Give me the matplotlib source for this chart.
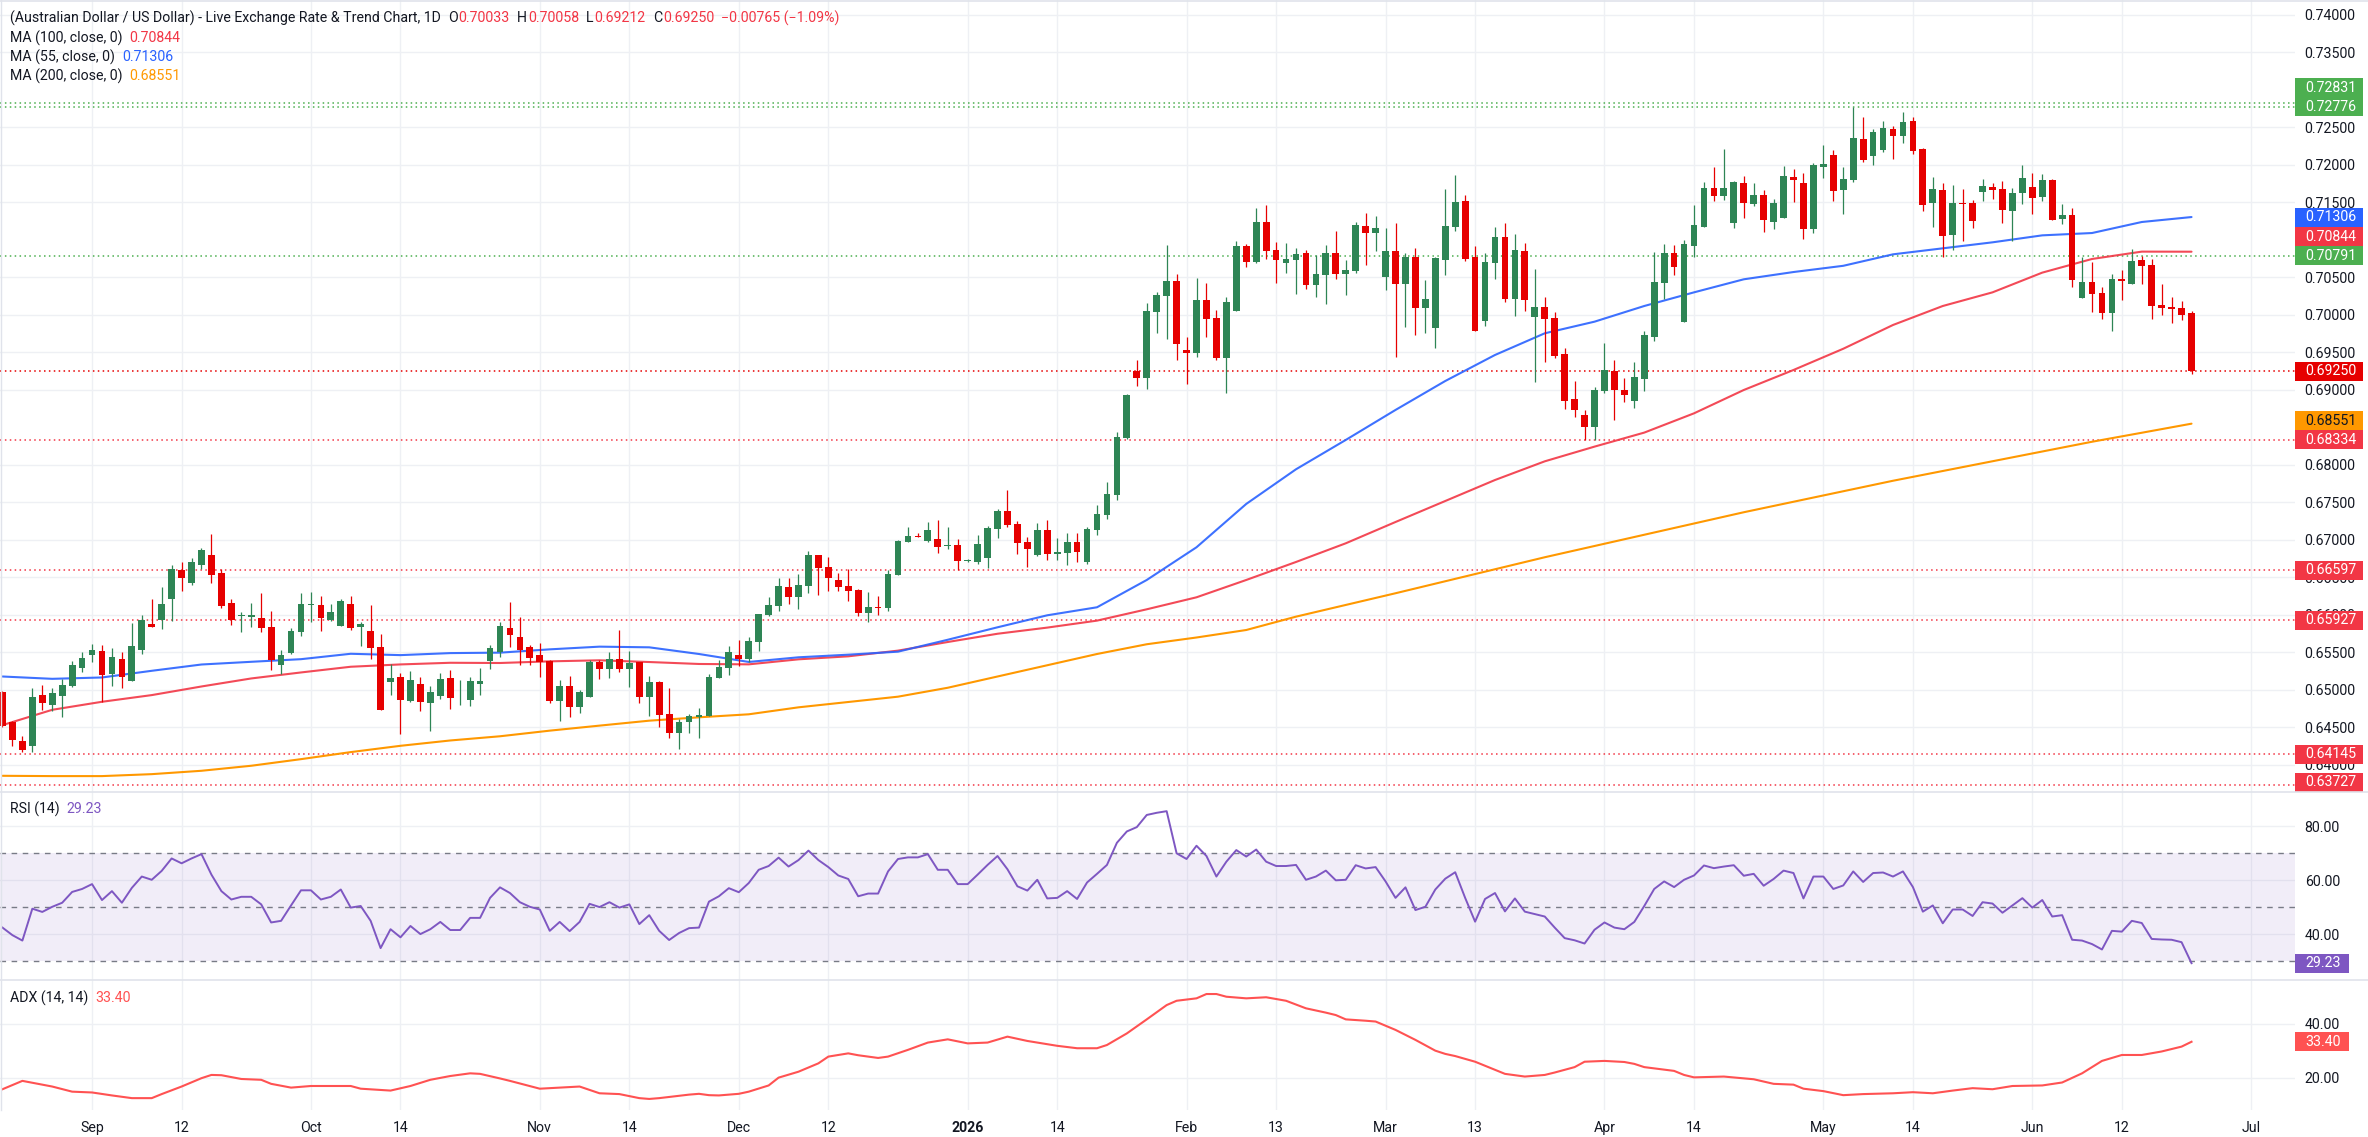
import numpy as np
import matplotlib
matplotlib.use("Agg")
import matplotlib.pyplot as plt
from matplotlib.patches import Rectangle
from matplotlib.lines import Line2D
from matplotlib.transforms import blended_transform_factory

plt.rcParams['font.family'] = ['Roboto', 'DejaVu Sans']

# ---- data (daily AUD/USD, first bar 2025-08-19, weekdays only) ----
start_date = "2025-08-19"

opens = [
    0.64976, 0.64572, 0.64318, 0.64256, 0.64931, 0.64803, 0.64923, 0.65056, 0.65296, 0.65469,
    0.65518, 0.65212, 0.65412, 0.65123, 0.65536, 0.65878, 0.65936, 0.66216, 0.66598, 0.66429,
    0.66669, 0.66798, 0.66558, 0.66154, 0.65985, 0.65976, 0.65958, 0.65843, 0.65336, 0.65491,
    0.65767, 0.66132, 0.66132, 0.65931, 0.65856, 0.66145, 0.65843, 0.65785, 0.65571, 0.65109,
    0.65171, 0.64852, 0.65078, 0.64829, 0.64914, 0.65158, 0.64887, 0.64867, 0.65085, 0.65391,
    0.65511, 0.65827, 0.65707, 0.65573, 0.65467, 0.65391, 0.64858, 0.65053, 0.64778, 0.64911,
    0.65378, 0.65285, 0.65413, 0.65285, 0.65378, 0.64911, 0.65107, 0.64680, 0.64431, 0.64578,
    0.64644, 0.64658, 0.65164, 0.65298, 0.65467, 0.65413, 0.65645, 0.66000, 0.66125, 0.66373,
    0.66245, 0.66391, 0.66800, 0.66640, 0.66467, 0.66387, 0.66333, 0.66031, 0.66107, 0.66098,
    0.66538, 0.66978, 0.67053, 0.66987, 0.67013, 0.66920, 0.66933, 0.66724, 0.66707, 0.66764,
    0.67151, 0.67387, 0.67213, 0.66973, 0.66800, 0.67133, 0.66818, 0.66831, 0.66973, 0.66711,
    0.67133, 0.67334, 0.67600, 0.68356, 0.69253, 0.69160, 0.70040, 0.70253, 0.70453, 0.69533,
    0.69493, 0.70200, 0.69960, 0.69427, 0.70053, 0.70920, 0.70707, 0.71240, 0.70867, 0.70693,
    0.70733, 0.70827, 0.70400, 0.70533, 0.70827, 0.70547, 0.70587, 0.71187, 0.71093, 0.70507,
    0.70853, 0.70418, 0.70773, 0.70098, 0.69831, 0.70738, 0.71173, 0.71520, 0.70773, 0.69924,
    0.70698, 0.71040, 0.70218, 0.70853, 0.69978, 0.70107, 0.69964, 0.69484, 0.68884, 0.68671,
    0.68511, 0.68991, 0.69258, 0.69004, 0.68858, 0.69151, 0.69711, 0.70431, 0.70827, 0.69911,
    0.70924, 0.71173, 0.71693, 0.71587, 0.71227, 0.71760, 0.71480, 0.71600, 0.71240, 0.71293,
    0.71840, 0.71760, 0.71147, 0.71973, 0.72133, 0.71667, 0.71800, 0.72347, 0.72120, 0.72200,
    0.72480, 0.72387, 0.72587, 0.72213, 0.71493, 0.71667, 0.71071, 0.71493, 0.71493, 0.71640,
    0.71707, 0.71680, 0.71387, 0.71627, 0.71707, 0.71573, 0.71800, 0.71280, 0.71333, 0.70227,
    0.70440, 0.70293, 0.70027, 0.70480, 0.70413, 0.70733, 0.70667, 0.70133, 0.70107, 0.70093,
    0.70033,
]
highs = [
    0.64990, 0.64589, 0.64380, 0.65020, 0.65065, 0.65020, 0.65145, 0.65385, 0.65500, 0.65611,
    0.65598, 0.65558, 0.65500, 0.65891, 0.65998, 0.66211, 0.66371, 0.66665, 0.66700, 0.66754,
    0.66887, 0.67078, 0.66611, 0.66211, 0.66034, 0.66158, 0.66291, 0.66051, 0.65531, 0.65825,
    0.66291, 0.66309, 0.66256, 0.66145, 0.66216, 0.66251, 0.65909, 0.66131, 0.65745, 0.65345,
    0.65225, 0.65247, 0.65167, 0.65056, 0.65225, 0.65265, 0.65132, 0.65173, 0.65293, 0.65600,
    0.65907, 0.66173, 0.65973, 0.65600, 0.65622, 0.65400, 0.65133, 0.65187, 0.65000, 0.65400,
    0.65400, 0.65507, 0.65800, 0.65520, 0.65378, 0.65187, 0.65120, 0.65027, 0.64618, 0.64680,
    0.64760, 0.65213, 0.65400, 0.65587, 0.65667, 0.65707, 0.66013, 0.66240, 0.66493, 0.66493,
    0.66547, 0.66853, 0.66800, 0.66773, 0.66560, 0.66613, 0.66347, 0.66307, 0.66253, 0.66600,
    0.67000, 0.67178, 0.67098, 0.67240, 0.67267, 0.67173, 0.67013, 0.66751, 0.67067, 0.67187,
    0.67413, 0.67667, 0.67253, 0.67040, 0.67227, 0.67267, 0.67027, 0.67093, 0.67093, 0.67173,
    0.67467, 0.67773, 0.68440, 0.68947, 0.69400, 0.70160, 0.70307, 0.70933, 0.70547, 0.69707,
    0.70493, 0.70427, 0.70067, 0.70240, 0.70987, 0.70947, 0.71427, 0.71467, 0.70973, 0.70960,
    0.70893, 0.70867, 0.70800, 0.70933, 0.71120, 0.70733, 0.71240, 0.71360, 0.71320, 0.71160,
    0.71227, 0.70827, 0.70893, 0.70467, 0.70773, 0.71680, 0.71867, 0.71600, 0.70920, 0.70827,
    0.71173, 0.71227, 0.71080, 0.70960, 0.70613, 0.70240, 0.70044, 0.69564, 0.69124, 0.68738,
    0.69044, 0.69631, 0.69404, 0.69164, 0.69378, 0.69791, 0.70844, 0.70951, 0.70938, 0.71000,
    0.71467, 0.71773, 0.71973, 0.72213, 0.71787, 0.71853, 0.71760, 0.71667, 0.71547, 0.71987,
    0.71947, 0.71893, 0.72027, 0.72267, 0.72200, 0.71973, 0.72773, 0.72640, 0.72480, 0.72587,
    0.72520, 0.72707, 0.72640, 0.72227, 0.71840, 0.71760, 0.71733, 0.71680, 0.71533, 0.71813,
    0.71760, 0.71787, 0.71693, 0.72000, 0.71893, 0.71880, 0.71813, 0.71480, 0.71427, 0.70773,
    0.70707, 0.70373, 0.70547, 0.70600, 0.70880, 0.70787, 0.70747, 0.70413, 0.70240, 0.70187,
    0.70058,
]
lows = [
    0.64510, 0.64256, 0.64167, 0.64167, 0.64736, 0.64723, 0.64643, 0.65043, 0.65243, 0.65367,
    0.64843, 0.65047, 0.65029, 0.65114, 0.65483, 0.65834, 0.65811, 0.65923, 0.66323, 0.66398,
    0.66611, 0.66429, 0.66087, 0.65869, 0.65767, 0.65834, 0.65767, 0.65269, 0.65212, 0.65478,
    0.65723, 0.65909, 0.65785, 0.65914, 0.65847, 0.65802, 0.65580, 0.65411, 0.64736, 0.64931,
    0.64412, 0.64834, 0.64723, 0.64456, 0.64878, 0.64745, 0.64798, 0.64791, 0.64933, 0.65285,
    0.65445, 0.65578, 0.65333, 0.65333, 0.65178, 0.64822, 0.64591, 0.64645, 0.64689, 0.64900,
    0.65151, 0.65165, 0.65245, 0.65045, 0.64831, 0.64658, 0.64511, 0.64365, 0.64218, 0.64431,
    0.64365, 0.64653, 0.65164, 0.65200, 0.65325, 0.65378, 0.65525, 0.65987, 0.66058, 0.66151,
    0.66085, 0.66298, 0.66267, 0.66320, 0.66324, 0.66191, 0.65991, 0.65911, 0.66005, 0.66058,
    0.66538, 0.66978, 0.67040, 0.66973, 0.66831, 0.66884, 0.66600, 0.66711, 0.66684, 0.66631,
    0.67031, 0.67178, 0.66818, 0.66644, 0.66787, 0.66738, 0.66738, 0.66671, 0.66711, 0.66684,
    0.67067, 0.67280, 0.67533, 0.68342, 0.69053, 0.69013, 0.69760, 0.69680, 0.69400, 0.69080,
    0.69440, 0.69707, 0.69400, 0.68960, 0.70053, 0.70640, 0.70693, 0.70747, 0.70427, 0.70560,
    0.70280, 0.70347, 0.70240, 0.70147, 0.70480, 0.70267, 0.70560, 0.70667, 0.70853, 0.70333,
    0.69444, 0.69844, 0.69738, 0.69765, 0.69564, 0.70538, 0.71124, 0.70720, 0.69791, 0.69858,
    0.70484, 0.70178, 0.69991, 0.70058, 0.69111, 0.69378, 0.69431, 0.68751, 0.68644, 0.68333,
    0.68333, 0.68956, 0.68604, 0.68844, 0.68764, 0.68991, 0.69658, 0.70218, 0.70538, 0.69911,
    0.70778, 0.71173, 0.71520, 0.71533, 0.71160, 0.71293, 0.71453, 0.71107, 0.71147, 0.71293,
    0.71507, 0.71013, 0.71093, 0.71827, 0.71520, 0.71347, 0.71773, 0.72044, 0.72000, 0.72173,
    0.72080, 0.72293, 0.72147, 0.71387, 0.71173, 0.70778, 0.70867, 0.70987, 0.71160, 0.71520,
    0.71547, 0.71227, 0.70987, 0.71480, 0.71347, 0.71520, 0.71267, 0.71213, 0.70378, 0.70227,
    0.70040, 0.69947, 0.69787, 0.70200, 0.70413, 0.70413, 0.69947, 0.70000, 0.69893, 0.69933,
    0.69212,
]
closes = [
    0.64523, 0.64336, 0.64203, 0.64900, 0.64829, 0.64958, 0.65065, 0.65331, 0.65425, 0.65531,
    0.65203, 0.65438, 0.65176, 0.65585, 0.65931, 0.65843, 0.66140, 0.66611, 0.66496, 0.66700,
    0.66865, 0.66536, 0.66123, 0.65931, 0.65998, 0.65998, 0.65829, 0.65398, 0.65469, 0.65785,
    0.66145, 0.66145, 0.65963, 0.66043, 0.66185, 0.65820, 0.65883, 0.65558, 0.64736, 0.65158,
    0.64869, 0.65132, 0.64843, 0.64972, 0.65145, 0.64887, 0.64896, 0.65120, 0.65120, 0.65560,
    0.65853, 0.65738, 0.65533, 0.65431, 0.65378, 0.64858, 0.65053, 0.64778, 0.64973, 0.65378,
    0.65285, 0.65413, 0.65285, 0.65360, 0.64911, 0.65107, 0.64671, 0.64431, 0.64578, 0.64653,
    0.64667, 0.65173, 0.65307, 0.65507, 0.65413, 0.65653, 0.66013, 0.66133, 0.66387, 0.66245,
    0.66400, 0.66800, 0.66631, 0.66498, 0.66378, 0.66324, 0.66031, 0.66107, 0.66098, 0.66547,
    0.66987, 0.67053, 0.67040, 0.67133, 0.66911, 0.66933, 0.66724, 0.66738, 0.66947, 0.67160,
    0.67387, 0.67200, 0.66964, 0.66884, 0.67133, 0.66818, 0.66840, 0.66973, 0.66844, 0.67147,
    0.67347, 0.67613, 0.68373, 0.68933, 0.69160, 0.70053, 0.70267, 0.70453, 0.69618, 0.69498,
    0.70200, 0.69947, 0.69427, 0.70173, 0.70920, 0.70707, 0.71240, 0.70853, 0.70733, 0.70747,
    0.70813, 0.70400, 0.70547, 0.70827, 0.70547, 0.70600, 0.71200, 0.71093, 0.71160, 0.70853,
    0.70418, 0.70773, 0.70098, 0.70213, 0.70760, 0.71187, 0.71507, 0.70747, 0.69791, 0.70707,
    0.71040, 0.70218, 0.70867, 0.70204, 0.70107, 0.69951, 0.69458, 0.68858, 0.68738, 0.68511,
    0.69004, 0.69271, 0.69004, 0.68938, 0.69178, 0.69738, 0.70444, 0.70827, 0.70644, 0.70947,
    0.71200, 0.71693, 0.71587, 0.71693, 0.71773, 0.71493, 0.71600, 0.71267, 0.71493, 0.71853,
    0.71800, 0.71147, 0.72000, 0.72013, 0.71653, 0.71813, 0.72360, 0.72067, 0.72440, 0.72493,
    0.72387, 0.72573, 0.72187, 0.71467, 0.71680, 0.71058, 0.71493, 0.71480, 0.71253, 0.71720,
    0.71667, 0.71400, 0.71627, 0.71827, 0.71560, 0.71800, 0.71267, 0.71333, 0.70467, 0.70440,
    0.70280, 0.70027, 0.70480, 0.70458, 0.70720, 0.70653, 0.70120, 0.70093, 0.70080, 0.70000,
    0.69250,
]

# moving averages read every 5 bars
ma_step = 5
ma55 = [
    0.65180, 0.65149, 0.65167, 0.65256, 0.65340, 0.65376, 0.65411, 0.65483, 0.65465, 0.65492,
    0.65498, 0.65542, 0.65578, 0.65569, 0.65480, 0.65374, 0.65436, 0.65471, 0.65511, 0.65670,
    0.65836, 0.65996, 0.66103, 0.66467, 0.66903, 0.67481, 0.67943, 0.68334, 0.68734, 0.69120,
    0.69467, 0.69756, 0.69911, 0.70120, 0.70302, 0.70476, 0.70573, 0.70656, 0.70809, 0.70889,
    0.70969, 0.71062, 0.71093, 0.71240, 0.71306,
]
ma100 = [
    0.64532, 0.64736, 0.64843, 0.64932, 0.65047, 0.65154, 0.65234, 0.65310, 0.65341, 0.65363,
    0.65360, 0.65382, 0.65396, 0.65373, 0.65347, 0.65342, 0.65409, 0.65449, 0.65525, 0.65640,
    0.65750, 0.65832, 0.65925, 0.66076, 0.66236, 0.66467, 0.66707, 0.66956, 0.67240, 0.67520,
    0.67800, 0.68049, 0.68245, 0.68432, 0.68689, 0.69000, 0.69267, 0.69550, 0.69867, 0.70120,
    0.70302, 0.70565, 0.70747, 0.70845, 0.70844,
]
ma200 = [
    0.63856, 0.63852, 0.63852, 0.63878, 0.63923, 0.63990, 0.64078, 0.64172, 0.64256, 0.64327,
    0.64383, 0.64458, 0.64525, 0.64591, 0.64636, 0.64676, 0.64769, 0.64840, 0.64911, 0.65030,
    0.65180, 0.65330, 0.65480, 0.65610, 0.65700, 0.65800, 0.65978, 0.66134, 0.66290, 0.66450,
    0.66610, 0.66770, 0.66920, 0.67070, 0.67220, 0.67370, 0.67510, 0.67650, 0.67790, 0.67920,
    0.68050, 0.68180, 0.68310, 0.68430, 0.68551,
]

rsi = [
    42.4, 39.6, 37.6, 49.4, 48.2, 50.1, 51.6, 55.6, 56.7, 58.5,
    52.6, 55.9, 51.6, 57.1, 61.3, 60.1, 63.4, 68.0, 66.2, 68.0,
    69.6, 62.0, 55.9, 52.8, 53.8, 53.8, 51.0, 44.3, 44.9, 50.6,
    56.2, 56.2, 52.8, 53.8, 56.5, 49.8, 50.4, 44.9, 34.8, 41.8,
    38.8, 43.0, 40.0, 41.8, 44.5, 41.5, 41.5, 46.0, 46.0, 53.4,
    57.3, 55.2, 51.8, 50.1, 49.1, 41.2, 44.5, 41.1, 44.5, 51.2,
    50.0, 51.8, 49.8, 51.0, 43.7, 47.0, 41.2, 37.8, 40.4, 42.2,
    42.4, 52.0, 54.0, 57.0, 55.5, 58.9, 63.8, 65.2, 68.3, 65.0,
    67.4, 70.9, 67.4, 64.8, 61.7, 60.4, 54.0, 55.0, 55.0, 63.2,
    67.8, 68.4, 68.4, 69.6, 63.8, 63.8, 58.5, 58.5, 62.0, 65.6,
    68.9, 64.0, 57.7, 56.1, 60.1, 53.2, 53.4, 55.9, 53.0, 59.1,
    62.3, 65.6, 73.8, 78.0, 79.6, 84.1, 84.9, 85.5, 69.9, 67.8,
    72.7, 68.9, 61.3, 66.8, 71.1, 68.7, 71.3, 66.8, 65.2, 65.2,
    65.6, 60.1, 61.3, 63.5, 59.9, 60.1, 65.5, 64.3, 64.8, 59.5,
    53.4, 57.3, 48.9, 50.1, 56.5, 60.5, 62.9, 53.4, 44.6, 53.0,
    55.2, 48.4, 53.2, 48.3, 47.4, 46.5, 42.4, 38.5, 37.7, 36.5,
    41.6, 44.3, 42.4, 41.8, 44.5, 50.4, 56.7, 59.5, 57.4, 60.1,
    61.7, 65.4, 64.4, 65.0, 65.5, 61.6, 62.3, 57.9, 60.4, 63.5,
    62.6, 53.2, 61.3, 61.3, 56.7, 58.0, 63.2, 59.3, 62.6, 62.8,
    61.3, 63.2, 57.4, 48.3, 50.6, 44.0, 49.1, 49.1, 46.7, 51.8,
    51.3, 47.9, 50.6, 53.3, 49.8, 52.6, 46.5, 47.0, 37.9, 37.6,
    36.3, 34.3, 41.2, 40.9, 44.9, 44.1, 38.2, 38.0, 37.9, 37.0,
    29.23,
]

# ADX read at its turning points (bar number, value)
adx_bar = [0, 2, 5, 7, 9, 11, 13, 15, 16, 18, 20, 21, 22, 24, 26, 27, 29, 31, 35, 36,
           39, 41, 43, 45, 47, 48, 50, 51, 54, 56, 58, 60, 62, 64, 65, 66, 69, 70, 71, 72,
           74, 75, 77, 78, 80, 82, 83, 85, 86, 88, 89, 91, 93, 95, 97, 99, 101, 103, 106, 108,
           110, 111, 113, 115, 117, 118, 120, 121, 122, 123, 125, 127, 129, 131, 133, 134, 135, 137, 138, 140,
           142, 144, 145, 146, 148, 150, 151, 153, 155, 156, 158, 159, 161, 163, 164, 165, 168, 169, 170, 173,
           176, 178, 180, 181, 183, 185, 187, 190, 192, 194, 196, 198, 200, 202, 205, 207, 209, 211, 213, 215,
           217, 219, 220]
adx_val = [15.8, 18.9, 16.8, 14.9, 14.6, 13.5, 12.5, 12.5, 14.0, 16.8, 19.9, 21.1, 21.0, 19.6, 19.3, 17.8, 16.4, 17.0, 17.0, 16.0,
           15.3, 17.0, 19.3, 20.7, 21.7, 21.5, 19.8, 18.9, 16.0, 16.4, 16.8, 14.3, 14.0, 12.5, 12.2, 12.5, 13.8, 14.1, 13.6, 13.5,
           14.1, 14.9, 17.2, 20.1, 22.3, 25.4, 27.9, 29.1, 28.4, 27.4, 27.9, 30.4, 33.1, 34.3, 32.8, 33.1, 35.3, 33.7, 31.9, 31.0,
           31.0, 32.2, 36.5, 41.7, 47.0, 48.6, 49.5, 51.1, 51.1, 50.1, 49.5, 49.9, 48.6, 45.8, 44.2, 43.3, 41.7, 41.2, 40.9, 37.8,
           34.1, 30.1, 28.9, 28.1, 26.0, 23.0, 21.5, 20.5, 21.1, 22.0, 24.0, 26.0, 26.3, 25.9, 25.2, 24.0, 22.6, 21.1, 20.2, 20.5,
           19.5, 17.8, 17.5, 16.0, 15.1, 13.6, 14.0, 14.3, 14.7, 14.3, 15.3, 16.2, 15.8, 17.0, 17.2, 18.3, 21.7, 26.3, 28.5, 28.5,
           29.8, 31.6, 33.4]

level_green = [0.72831, 0.72776, 0.70791]
level_red = [0.68334, 0.66597, 0.65927, 0.64145, 0.63727]
last_price = 0.69250

tick_dates = ["2025-09-01", "2025-09-12", "2025-10-01", "2025-10-14", "2025-11-03", "2025-11-14",
              "2025-12-01", "2025-12-12", "2026-01-01", "2026-01-14", "2026-02-02", "2026-02-13",
              "2026-03-02", "2026-03-13", "2026-04-01", "2026-04-14", "2026-05-01", "2026-05-14",
              "2026-06-01", "2026-06-12", "2026-07-01"]
tick_labels = ["Sep", "12", "Oct", "14", "Nov", "14", "Dec", "12", "2026", "14", "Feb", "13",
               "Mar", "13", "Apr", "14", "May", "14", "Jun", "12", "Jul"]

# ---- styling ----
GREEN = "#2e8555"
RED = "#e60000"
TXT = "#131722"
GRID = "#eef0f4"
C55, C100, C200 = "#2962ff", "#f23645", "#ff9800"
LVL_GREEN, LVL_RED = "#4caf50", "#f23645"
PURPLE, ADXC = "#7e57c2", "#ff5252"
FS = 10.2

W, H = 2368, 1137
fig = plt.figure(figsize=(W / 100, H / 100), dpi=100)
fig.patch.set_facecolor("white")

right = 2295 / W
def frac_rect(top_px, bot_px):
    return [0, 1 - bot_px / H, right, (bot_px - top_px) / H]

ax = fig.add_axes(frac_rect(0, 792))
ax_rsi = fig.add_axes(frac_rect(792, 980), sharex=ax)
ax_adx = fig.add_axes(frac_rect(980, 1110), sharex=ax)

o = np.array(opens); h = np.array(highs); l = np.array(lows); c = np.array(closes)
x = np.arange(len(c))
tick_pos = [np.busday_count(start_date, d) for d in tick_dates]

for a in (ax, ax_rsi, ax_adx):
    for s in a.spines.values():
        s.set_visible(False)
    a.set_facecolor("white")
    a.set_xticks(tick_pos)
    a.grid(True, axis="both", color=GRID, linewidth=1, zorder=0)
    a.set_axisbelow(True)
    a.yaxis.tick_right()
    a.tick_params(axis="y", length=0, pad=7, labelsize=FS, labelcolor=TXT)
    a.tick_params(axis="x", length=0)
ax.tick_params(axis="x", labelbottom=False)
ax_rsi.tick_params(axis="x", labelbottom=False)
ax_adx.set_xticklabels(tick_labels)
ax_adx.tick_params(axis="x", pad=8, labelsize=FS, labelcolor=TXT)
for t in ax_adx.get_xticklabels():
    if t.get_text() == "2026":
        t.set_fontweight("bold")
ax.set_xlim(-0.25, 230.4)

# ---- price panel ----
ax.set_ylim(0.6364, 0.742)
px_per_unit = 792 / (0.742 - 0.6364)

cols = np.where(c >= o, GREEN, RED)
ax.vlines(x, l, h, colors=cols, linewidth=0.9, zorder=4)
ax.bar(x, np.maximum(np.abs(c - o), 0.00012), bottom=np.minimum(o, c), width=0.68,
       color=cols, linewidth=0, zorder=5)

ma_x = np.arange(0, len(c), ma_step)
ax.plot(ma_x, ma200, color=C200, lw=1.5, zorder=3, solid_capstyle="round")
ax.plot(ma_x, ma100, color=C100, lw=1.5, zorder=3, alpha=0.9, solid_capstyle="round")
ax.plot(ma_x, ma55, color=C55, lw=1.5, zorder=3, alpha=0.9, solid_capstyle="round")

dots = (0, (1, 2.2))
for p in level_green:
    ax.axhline(p, color=LVL_GREEN, lw=1.1, ls=dots, zorder=2)
for p in level_red:
    ax.axhline(p, color=LVL_RED, lw=1.1, ls=dots, zorder=2)
ax.axhline(last_price, color=RED, lw=1.1, ls=dots, zorder=2)

# right-hand price tags, pushed apart from the bottom upwards
tags = [(p, LVL_GREEN, "white") for p in level_green]
tags += [(p, LVL_RED, "white") for p in level_red]
tags += [(ma55[-1], C55, "white"), (ma100[-1], C100, "white"), (ma200[-1], C200, TXT),
         (last_price, RED, "white")]
tags.sort(key=lambda t: t[0])
tag_h = 19 / px_per_unit
ymin = ax.get_ylim()[0]
placed = []
prev = None
for p, fc, tc in tags:
    yc = max(p, ymin + tag_h / 2)
    if prev is not None and yc < prev + tag_h:
        yc = prev + tag_h
    placed.append((yc, p, fc, tc))
    prev = yc

# price ticks: drop the ones that the tags hide completely
def hidden(v):
    m = 5 / px_per_unit
    inside = lambda y: any(abs(y - t[0]) <= tag_h / 2 for t in placed)
    return inside(v - m) and inside(v + m)

yt = [v for v in np.arange(0.640, 0.7401, 0.005) if not hidden(v)]
ax.set_yticks(yt)
ax.yaxis.set_major_formatter(plt.FormatStrFormatter("%.5f"))

def tag(a, yc, text, fc, tc, hh, wpx):
    tr = blended_transform_factory(a.transAxes, a.transData)
    a.add_patch(Rectangle((1.0, yc - hh / 2), wpx / 2295, hh, transform=tr, facecolor=fc,
                          edgecolor="none", clip_on=False, zorder=20))
    a.text(1.0 + 10 / 2295, yc, text, transform=tr, color=tc, fontsize=FS, va="center",
           ha="left", zorder=21, clip_on=False)

for yc, p, fc, tc in placed:
    tag(ax, yc, f"{p:.5f}", fc, tc, tag_h, 68)

# ---- RSI panel ----
ax_rsi.set_ylim(23.0, 92.6)
ax_rsi.set_yticks([40, 60, 80])
ax_rsi.yaxis.set_major_formatter(plt.FormatStrFormatter("%.2f"))
ax_rsi.axhspan(30, 70, color=PURPLE, alpha=0.1, lw=0, zorder=1)
for lv in (70, 50, 30):
    ax_rsi.axhline(lv, color="#787b86", lw=1, ls=(0, (4, 4)), zorder=2)
ax_rsi.plot(x, rsi, color=PURPLE, lw=1.4, zorder=4)
tag(ax_rsi, rsi[-1], f"{rsi[-1]:.2f}", PURPLE, "white", 19 / 2.7, 54)

# ---- ADX panel ----
ax_adx.set_ylim(8.1, 56.3)
ax_adx.set_yticks([20, 40])
ax_adx.yaxis.set_major_formatter(plt.FormatStrFormatter("%.2f"))
ax_adx.plot(adx_bar, adx_val, color=ADXC, lw=1.5, zorder=4)
tag(ax_adx, adx_val[-1], f"{adx_val[-1]:.2f}", ADXC, "white", 19 / 2.7, 54)

# panel separators and frame
for ypx in (1, 792, 980):
    fig.add_artist(Line2D([0, 1], [1 - ypx / H] * 2, transform=fig.transFigure,
                          color="#e0e3eb", lw=1.2))
fig.add_artist(Line2D([0.5 / W] * 2, [1 - 1110 / H, 1], transform=fig.transFigure,
                      color="#e0e3eb", lw=1))

# ---- legend texts (runs of coloured text) ----
renderer = fig.canvas.get_renderer()
def runs(x_px, y_px, parts):
    xx = x_px
    for s, col, gap in parts:
        t = fig.text(xx / W, 1 - y_px / H, s, color=col, fontsize=FS, va="center", ha="left")
        bb = t.get_window_extent(renderer)
        xx = bb.x1 + gap

runs(10, 18, [("(Australian Dollar / US Dollar) - Live Exchange Rate & Trend Chart, 1D", TXT, 7),
              ("O", TXT, 1), ("0.70033", C100, 7), ("H", TXT, 1), ("0.70058", C100, 7),
              ("L", TXT, 1), ("0.69212", C100, 7), ("C", TXT, 1), ("0.69250", C100, 7),
              ("\u22120.00765 (\u22121.09%)", C100, 0)])
runs(10, 38, [("MA (100, close, 0)", TXT, 7), (f"{ma100[-1]:.5f}", C100, 0)])
runs(10, 57, [("MA (55, close, 0)", TXT, 7), (f"{ma55[-1]:.5f}", C55, 0)])
runs(10, 76, [("MA (200, close, 0)", TXT, 7), (f"{ma200[-1]:.5f}", C200, 0)])
runs(10, 809, [("RSI (14)", TXT, 7), (f"{rsi[-1]:.2f}", PURPLE, 0)])
runs(10, 998, [("ADX (14, 14)", TXT, 7), (f"{adx_val[-1]:.2f}", ADXC, 0)])

fig.savefig("out.png", dpi=100)
